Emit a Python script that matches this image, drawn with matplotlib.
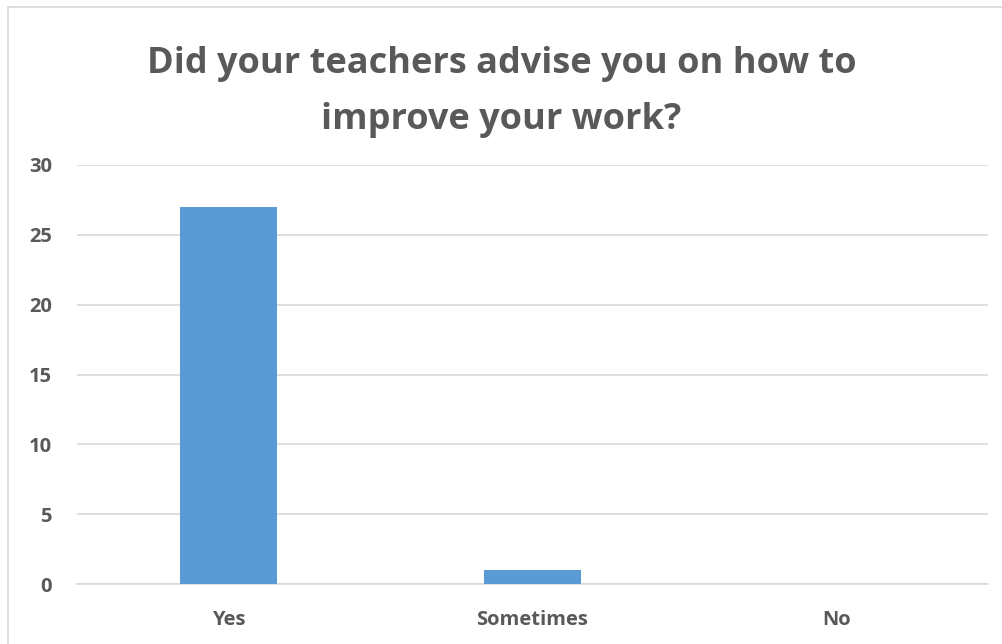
import matplotlib
matplotlib.use("Agg")
from matplotlib import pyplot as plt
from matplotlib.lines import Line2D

# survey answers
categories = ["Yes", "Sometimes", "No"]
counts = [27, 1, 0]
yticks = [0, 5, 10, 15, 20, 25, 30]

TITLE = "Did your teachers advise you on how to\nimprove your work?"
TEXT_COLOR = "#595959"
BAR_COLOR = "#5B9BD5"
GRID_COLOR = "#D9D9D9"

plt.rcParams["font.family"] = ["Open Sans", "DejaVu Sans"]

W, H = 1003, 644
fig = plt.figure(figsize=(W / 100, H / 100), dpi=100)
ax = fig.add_axes([77 / W, 60 / H, (988 - 77) / W, (584 - 165) / H])

x = list(range(len(categories)))
ax.bar(x, counts, width=0.32, color=BAR_COLOR, zorder=3)

ax.set_xlim(-0.5, len(categories) - 0.5)
ax.set_ylim(0, 30)
ax.set_yticks(yticks)
ax.set_xticks(x)
ax.set_xticklabels(categories)

ax.grid(axis="y", color=GRID_COLOR, linewidth=1.2, zorder=0)
for side in ["top", "right", "left"]:
    ax.spines[side].set_visible(False)
ax.spines["bottom"].set_color(GRID_COLOR)
ax.spines["bottom"].set_linewidth(1.2)
ax.tick_params(length=0, labelsize=14.5, labelcolor=TEXT_COLOR)
ax.tick_params(axis="y", pad=18)
ax.tick_params(axis="x", pad=19)
for lbl in ax.get_xticklabels() + ax.get_yticklabels():
    lbl.set_fontweight("bold")

fig.text(0.5, 1 - 92 / H, TITLE, ha="center", va="center", fontsize=26,
         fontweight="bold", color=TEXT_COLOR, linespacing=1.72)

# outer chart border (only top and left visible in the original)
fig.add_artist(Line2D([8 / W, 8 / W], [0, 1 - 7 / H], transform=fig.transFigure,
                      color=GRID_COLOR, linewidth=1.2))
fig.add_artist(Line2D([8 / W, 1], [1 - 7 / H, 1 - 7 / H], transform=fig.transFigure,
                      color=GRID_COLOR, linewidth=1.2))

fig.savefig("out.png", dpi=100)
